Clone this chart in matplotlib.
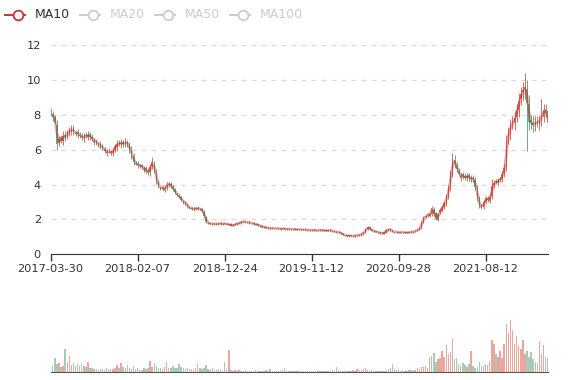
import numpy as np
import pandas as pd
import matplotlib
matplotlib.use("Agg")
from matplotlib import pyplot as plt
from matplotlib.lines import Line2D

# weekly candles (one bar ~ 5 sessions)
opens = [8.2, 8.0, 7.85, 7.4, 6.4, 6.7, 6.5, 6.85, 6.75, 7.0,
         7.05, 7.25, 6.9, 7.0, 6.85, 6.8, 6.65, 6.85, 6.75, 6.9,
         6.75, 6.45, 6.5, 6.25, 6.3, 6.2, 6.05, 5.8, 5.95, 5.8,
         5.8, 6.0, 6.15, 6.4, 6.3, 6.45, 6.35, 6.45, 6.25, 5.95,
         5.65, 5.25, 5.2, 5.05, 5.1, 4.85, 4.95, 4.8, 4.7, 5.05,
         5.2, 4.7, 4.15, 3.75, 3.85, 3.7, 3.85, 4.0, 4.05, 3.85,
         3.7, 3.45, 3.35, 3.3, 2.95, 3.0, 2.85, 2.7, 2.65, 2.58,
         2.6, 2.68, 2.58, 2.6, 2.45, 2.15, 1.82, 1.76, 1.73, 1.77,
         1.73, 1.74, 1.78, 1.73, 1.77, 1.75, 1.7, 1.72, 1.64, 1.69,
         1.71, 1.79, 1.8, 1.88, 1.86, 1.83, 1.85, 1.77, 1.79, 1.74,
         1.71, 1.62, 1.64, 1.57, 1.51, 1.53, 1.49, 1.51, 1.48, 1.5,
         1.48, 1.45, 1.46, 1.47, 1.44, 1.46, 1.43, 1.45, 1.44, 1.41,
         1.44, 1.43, 1.4, 1.42, 1.38, 1.4, 1.37, 1.41, 1.36, 1.37,
         1.37, 1.41, 1.37, 1.34, 1.35, 1.39, 1.35, 1.33, 1.27, 1.29,
         1.26, 1.2, 1.1, 1.09, 1.04, 1.09, 1.05, 1.03, 1.09, 1.08,
         1.11, 1.17, 1.26, 1.44, 1.56, 1.44, 1.36, 1.31, 1.27, 1.24,
         1.23, 1.19, 1.24, 1.39, 1.46, 1.37, 1.27, 1.29, 1.24, 1.24,
         1.28, 1.25, 1.23, 1.24, 1.29, 1.26, 1.31, 1.36, 1.41, 1.5,
         1.88, 2.15, 2.3, 2.2, 2.3, 2.6, 2.35, 1.98, 2.4, 2.5,
         2.7, 2.9, 3.3, 3.85, 4.6, 5.4, 5.1, 4.8, 4.4, 4.6,
         4.5, 4.35, 4.55, 4.3, 4.4, 4.25, 3.8, 3.2, 2.8, 2.7,
         3.0, 3.25, 3.05, 3.35, 3.95, 4.2, 4.1, 4.25, 4.3, 4.65,
         5.0, 6.6, 6.9, 7.5, 7.5, 7.9, 8.3, 8.9, 9.3, 9.5,
         9.5, 8.6, 7.7, 7.55, 7.35, 7.7, 7.45, 7.75, 7.9, 8.35, 8.2]
closes = [8.1, 7.9, 7.6, 6.3, 6.6, 6.5, 6.8, 6.7, 7.0, 7.1,
          7.2, 7.0, 6.95, 6.9, 6.8, 6.7, 6.75, 6.8, 6.85, 6.7,
          6.6, 6.5, 6.4, 6.3, 6.2, 6.1, 5.95, 5.85, 5.9, 5.85,
          5.9, 6.2, 6.3, 6.35, 6.4, 6.3, 6.45, 6.3, 6.0, 5.7,
          5.3, 5.2, 5.1, 5.1, 5.0, 4.9, 4.75, 4.7, 5.0, 5.3,
          4.8, 4.2, 3.9, 3.8, 3.75, 3.8, 4.0, 4.05, 3.9, 3.75,
          3.55, 3.4, 3.3, 3.1, 3.0, 2.9, 2.75, 2.65, 2.6, 2.62,
          2.65, 2.6, 2.62, 2.5, 2.2, 1.85, 1.78, 1.75, 1.76, 1.74,
          1.75, 1.77, 1.74, 1.76, 1.75, 1.73, 1.72, 1.65, 1.68, 1.72,
          1.78, 1.82, 1.86, 1.87, 1.85, 1.84, 1.8, 1.78, 1.75, 1.7,
          1.68, 1.63, 1.58, 1.55, 1.52, 1.5, 1.5, 1.49, 1.5, 1.48,
          1.47, 1.46, 1.47, 1.45, 1.46, 1.44, 1.45, 1.44, 1.42, 1.43,
          1.43, 1.41, 1.42, 1.4, 1.39, 1.38, 1.4, 1.38, 1.37, 1.38,
          1.4, 1.38, 1.36, 1.35, 1.38, 1.36, 1.32, 1.3, 1.28, 1.25,
          1.2, 1.12, 1.08, 1.05, 1.08, 1.06, 1.04, 1.08, 1.1, 1.12,
          1.18, 1.25, 1.45, 1.55, 1.45, 1.35, 1.32, 1.28, 1.25, 1.22,
          1.2, 1.25, 1.4, 1.45, 1.38, 1.3, 1.28, 1.26, 1.25, 1.27,
          1.26, 1.24, 1.25, 1.28, 1.27, 1.3, 1.35, 1.4, 1.5, 1.85,
          2.1, 2.2, 2.25, 2.3, 2.65, 2.3, 2.0, 2.3, 2.55, 2.7,
          2.95, 3.3, 3.8, 4.6, 5.45, 5.2, 4.9, 4.6, 4.5, 4.45,
          4.4, 4.5, 4.35, 4.35, 4.3, 3.85, 3.2, 2.75, 2.7, 3.0,
          3.2, 3.1, 3.3, 3.9, 4.1, 4.15, 4.2, 4.3, 4.6, 4.95,
          6.5, 7.0, 7.4, 7.6, 7.8, 8.3, 8.8, 9.2, 9.4, 9.6,
          8.7, 7.6, 7.5, 7.4, 7.6, 7.5, 7.7, 8.0, 8.3, 8.1, 7.5]
# wick length above/below the body, percent of price
wick_pct = [2, 3, 2, 4, 3, 2, 4, 3, 2, 3,
            3, 2, 2, 3, 2, 2, 3, 2, 3, 2,
            2, 3, 2, 2, 3, 2, 2, 3, 2, 2,
            3, 2, 4, 2, 3, 2, 3, 2, 3, 4,
            3, 2, 3, 2, 2, 3, 2, 3, 4, 3,
            3, 4, 3, 2, 3, 3, 4, 3, 2, 3,
            3, 2, 3, 2, 3, 2, 3, 2, 2, 3,
            2, 3, 2, 3, 4, 3, 2, 2, 3, 2,
            2, 2, 3, 2, 2, 3, 2, 3, 2, 2,
            2, 3, 2, 2, 3, 2, 2, 2, 3, 2,
            2, 2, 3, 2, 2, 2, 3, 2, 2, 2,
            2, 2, 2, 3, 2, 2, 2, 2, 3, 2,
            2, 2, 2, 2, 3, 2, 2, 2, 2, 2,
            2, 3, 2, 2, 2, 3, 2, 2, 3, 2,
            3, 2, 3, 2, 2, 3, 2, 2, 3, 2,
            3, 3, 4, 3, 3, 2, 3, 2, 2, 3,
            2, 3, 3, 2, 3, 2, 2, 3, 2, 2,
            2, 2, 3, 2, 2, 2, 3, 2, 3, 4,
            4, 3, 4, 3, 5, 4, 3, 4, 3, 4,
            4, 5, 4, 5, 4, 5, 4, 3, 4, 3,
            3, 4, 3, 4, 3, 4, 5, 4, 3, 4,
            4, 3, 4, 5, 4, 3, 4, 3, 4, 5,
            5, 4, 5, 4, 5, 4, 5, 4, 5, 6,
            5, 6, 4, 5, 4, 3, 4, 5, 4, 3, 4]
high_spikes = {0: 8.3, 49: 5.6, 184: 2.75, 194: 5.8, 213: 4.3, 229: 10.4, 237: 8.9}
low_spikes = {3: 6.0, 230: 5.9}

volumes = [19, 12, 27, 15, 17, 10, 12, 44, 20, 31,
           14, 17, 12, 15, 13, 16, 12, 11, 20, 9,
           8, 7, 6, 5, 7, 6, 5, 8, 6, 7,
           6, 9, 14, 8, 17, 10, 8, 14, 9, 7,
           12, 6, 8, 7, 5, 9, 6, 8, 22, 10,
           17, 12, 8, 9, 7, 10, 20, 8, 9, 12,
           9, 8, 16, 10, 9, 7, 8, 6, 7, 5,
           8, 17, 9, 6, 8, 14, 6, 5, 8, 4,
           5, 6, 4, 3, 20, 6, 43, 4, 3, 5,
           3, 4, 2, 3, 5, 3, 2, 3, 2, 4,
           3, 2, 3, 2, 4, 3, 6, 2, 3, 2,
           3, 2, 4, 8, 3, 2, 3, 2, 2, 3,
           2, 3, 2, 2, 3, 2, 2, 3, 2, 3,
           2, 3, 3, 2, 2, 3, 4, 3, 10, 4,
           3, 3, 2, 3, 2, 3, 4, 3, 7, 5,
           4, 7, 8, 5, 3, 4, 3, 3, 2, 3,
           3, 2, 3, 6, 8, 16, 7, 5, 4, 3,
           4, 3, 3, 4, 5, 3, 4, 8, 6, 10,
           10, 12, 9, 30, 31, 36, 20, 25, 28, 40,
           30, 52, 35, 38, 63, 25, 27, 15, 12, 18,
           14, 10, 16, 41, 12, 9, 10, 20, 13, 12,
           16, 14, 22, 62, 55, 35, 30, 40, 28, 55,
           92, 75, 100, 81, 55, 69, 50, 45, 62, 35,
           40, 30, 38, 25, 20, 18, 60, 35, 53, 30, 28]

tick_labels = ['2017-03-30', '2018-02-07', '2018-12-24', '2019-11-12', '2020-09-28', '2021-08-12']
tick_step = 42
legend_names = ['MA10', 'MA20', 'MA50', 'MA100']

up_color = '#d9503c'
down_color = '#4f9a70'
ma_color = '#c23531'

opens = np.array(opens)
closes = np.array(closes)
wk = np.array(wick_pct) / 100.0
top = np.maximum(opens, closes)
bot = np.minimum(opens, closes)
highs = top * (1 + wk)
lows = bot * (1 - wk)
for k, v in high_spikes.items():
    highs[k] = max(highs[k], v)
for k, v in low_spikes.items():
    lows[k] = min(lows[k], v)
n = len(closes)
x = np.arange(n)
up = closes >= opens
cols = np.where(up, up_color, down_color)
# MA10 over daily sessions ~ 2 weekly bars
ma = pd.Series(closes).rolling(2).mean()

W, H = 577, 380
fig = plt.figure(figsize=(W / 100, H / 100), dpi=100)

ax = fig.add_axes([50.7 / W, (H - 254.3) / H, 497 / W, (254.3 - 45) / H])
body_h = np.maximum(top - bot, 0.03)
ax.vlines(x, lows, highs, colors=cols, linewidth=0.7, alpha=0.85, zorder=2)
ax.bar(x, body_h, bottom=bot, width=0.7, color=cols, alpha=0.85,
       linewidth=0, zorder=3)
ax.plot(x, ma, color=ma_color, linewidth=1.8, alpha=0.45, zorder=4)

ax.set_xlim(0, n - 1)
ax.set_ylim(0, 12)
ax.set_yticks(range(0, 13, 2))
ax.grid(axis='y', color='#dcdcdc', linestyle=(0, (4, 4)), linewidth=0.9)
ax.set_axisbelow(True)
for s in ['top', 'right', 'left']:
    ax.spines[s].set_visible(False)
ax.spines['bottom'].set_color('#333333')
ax.set_xticks([i * tick_step for i in range(len(tick_labels))])
ax.set_xticklabels(tick_labels)
ax.tick_params(axis='x', length=5, width=1, color='#333333', labelsize=8.2,
               labelcolor='#333333', pad=2)
ax.tick_params(axis='y', length=0, labelsize=8.2, labelcolor='#333333', pad=7)

axv = fig.add_axes([50.7 / W, (H - 372.3) / H, 497 / W, (372.3 - 320) / H])
axv.bar(x, volumes, width=0.7, color=cols, alpha=0.5, linewidth=0)
axv.set_xlim(0, n - 1)
axv.set_ylim(0, 100)
axv.set_xticks([])
axv.set_yticks([])
for s in ['top', 'right', 'left']:
    axv.spines[s].set_visible(False)
axv.spines['bottom'].set_color('#555555')

# legend, drawn by hand like the echarts one
leg_x = [5, 80, 155, 230]
for i, name in enumerate(legend_names):
    c = ma_color if i == 0 else '#cccccc'
    tc = '#333333' if i == 0 else '#cccccc'
    x0 = leg_x[i]
    fig.add_artist(Line2D([x0 / W, (x0 + 20) / W], [(H - 15) / H] * 2,
                          transform=fig.transFigure, color=c, linewidth=1.4))
    fig.add_artist(Line2D([(x0 + 13) / W], [(H - 15) / H], transform=fig.transFigure,
                          marker='o', markersize=7, markerfacecolor='white',
                          markeredgecolor=c, markeredgewidth=1.3, linestyle='none'))
    fig.text((x0 + 30) / W, (H - 15) / H, name, color=tc, fontsize=9, va='center')

fig.savefig('out.png', dpi=100)
